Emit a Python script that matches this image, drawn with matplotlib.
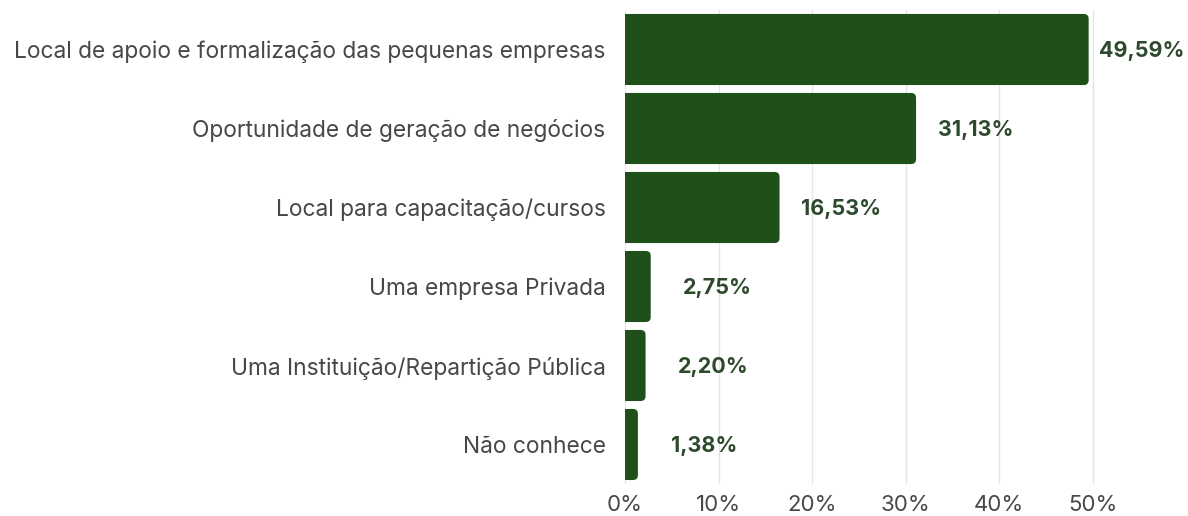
import matplotlib.pyplot as plt
from matplotlib.patches import FancyBboxPatch, Rectangle
from matplotlib.ticker import FuncFormatter

plt.rcParams['font.family'] = ['Inter', 'DejaVu Sans']

categories = [
    "Local de apoio e formalização das pequenas empresas",
    "Oportunidade de geração de negócios",
    "Local para capacitação/cursos",
    "Uma empresa Privada",
    "Uma Instituição/Repartição Pública",
    "Não conhece",
]
values = [49.59, 31.13, 16.53, 2.75, 2.20, 1.38]
value_labels = ["49,59%", "31,13%", "16,53%", "2,75%", "2,20%", "1,38%"]
ticks = [0, 10, 20, 30, 40, 50]

bar_color = "#20501a"
label_color = "#2e4a2c"
text_color = "#474747"
grid_color = "#e3e6e3"

W, H = 1188, 516
fig = plt.figure(figsize=(W / 100, H / 100), dpi=100)
left_px, right_px, top_px, bottom_px = 625, 1186, 10, 484
ax = fig.add_axes([left_px / W, 1 - bottom_px / H,
                   (right_px - left_px) / W, (bottom_px - top_px) / H])

xmax = 60
ax.set_xlim(0, xmax)
ax.set_ylim(len(values) - 0.5, -0.5)

# pixel -> data conversions for the rounded corners
px_x = xmax / (right_px - left_px)
px_y = len(values) / (bottom_px - top_px)
radius_px = 5
bar_h = 0.9

for i, v in enumerate(values):
    y0 = i - bar_h / 2
    box = FancyBboxPatch((0, y0), v, bar_h,
                         boxstyle=f"round,pad=0,rounding_size={radius_px * px_x}",
                         mutation_aspect=px_y / px_x,
                         facecolor=bar_color, edgecolor="none", zorder=3)
    ax.add_patch(box)
    # square off the left end
    ax.add_patch(Rectangle((0, y0), min(v / 2, radius_px * px_x * 1.5), bar_h,
                           facecolor=bar_color, edgecolor="none", zorder=3))

# value labels next to each bar
offsets = [10, 22, 21, 32, 32, 33]
for i, (v, lab) in enumerate(zip(values, value_labels)):
    ax.annotate(lab, (v, i), xytext=(offsets[i] * 0.72, -1), textcoords="offset points",
                ha="left", va="center", fontsize=15.5, fontweight="bold",
                color=label_color)

ax.set_yticks(range(len(categories)))
ax.set_yticklabels(categories, fontsize=16.4, color=text_color)
ax.set_xticks(ticks)
ax.xaxis.set_major_formatter(FuncFormatter(lambda x, _: f"{x:.0f}%"))
ax.tick_params(axis="x", labelsize=16, labelcolor=text_color, length=0, pad=8)
ax.tick_params(axis="y", length=0, pad=14)

ax.grid(axis="x", color=grid_color, linewidth=1, zorder=0)
ax.set_axisbelow(True)
for s in ax.spines.values():
    s.set_visible(False)

fig.savefig("out.png", dpi=100)
